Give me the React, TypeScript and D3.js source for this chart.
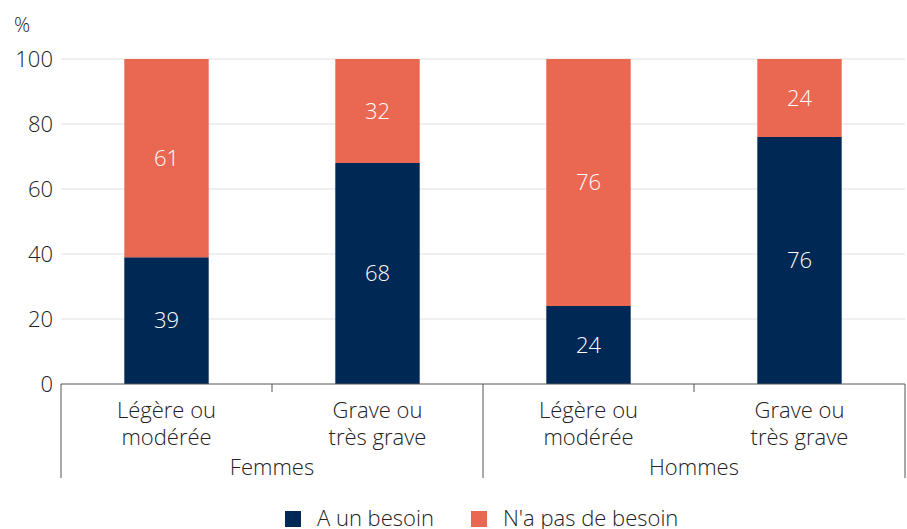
import React, { useEffect, useRef } from "react";
import * as d3 from "d3";

const groups = ["Femmes", "Hommes"];
const severities = [["Légère ou", "modérée"], ["Grave ou", "très grave"]];
const categories = ["F-leg", "F-grave", "H-leg", "H-grave"];
const aBesoin = [39, 68, 24, 76];
const pasBesoin = [61, 32, 76, 24];
const seriesNames = ["A un besoin", "N'a pas de besoin"];
const yTicks = [0, 20, 40, 60, 80, 100];

const colors = ["#002855", "#EA6752"];
const font = "'Open Sans', sans-serif";
const weight = 300;
const fs = 22;
const textColor = "#222";

const App = () => {
  const svgRef = useRef<SVGSVGElement>(null);

  useEffect(() => {
    const width = 907;
    const height = 529;
    const margin = { top: 59, right: 2, bottom: 145, left: 61 };

    const svg = d3.select(svgRef.current);
    svg.selectAll("*").remove();

    const x = d3.scaleBand()
      .domain(categories)
      .range([margin.left, width - margin.right])
      .paddingInner(0.6)
      .paddingOuter(0.3);
    const band = (width - margin.right - margin.left) / categories.length;

    const y = d3.scaleLinear()
      .domain([0, 100])
      .range([height - margin.bottom, margin.top]);

    const txt = (sel: any) =>
      sel.attr("font-family", font)
        .attr("font-weight", weight)
        .attr("font-size", fs)
        .attr("fill", textColor);

    // gridlines
    svg.append("g")
      .selectAll("line")
      .data(yTicks.filter((t) => t > 0))
      .join("line")
      .attr("x1", margin.left)
      .attr("x2", width - margin.right)
      .attr("y1", (d) => y(d))
      .attr("y2", (d) => y(d))
      .attr("stroke", "#e0e0e0")
      .attr("stroke-width", 1);

    // y tick labels
    svg.append("g")
      .selectAll("text")
      .data(yTicks)
      .join("text")
      .attr("x", margin.left - 8)
      .attr("y", (d) => y(d))
      .attr("dy", "0.35em")
      .attr("text-anchor", "end")
      .call(txt)
      .text((d) => d);

    svg.append("text")
      .attr("x", 14)
      .attr("y", 32)
      .call(txt)
      .attr("font-size", 20)
      .text("%");

    // stacked bars
    const rows = categories.map((c, i) => ({ cat: c, a: aBesoin[i], b: pasBesoin[i] }));
    const stacked = d3.stack<any>().keys(["a", "b"])(rows);

    stacked.forEach((layer, li) => {
      const g = svg.append("g");
      g.selectAll("rect")
        .data(layer)
        .join("rect")
        .attr("x", (d) => x(d.data.cat)!)
        .attr("y", (d) => y(d[1]))
        .attr("width", x.bandwidth())
        .attr("height", (d) => y(d[0]) - y(d[1]))
        .attr("fill", colors[li]);
      g.selectAll("text")
        .data(layer)
        .join("text")
        .attr("x", (d) => x(d.data.cat)! + x.bandwidth() / 2)
        .attr("y", (d) => y((d[0] + d[1]) / 2))
        .attr("dy", "0.35em")
        .attr("text-anchor", "middle")
        .call(txt)
        .attr("fill", "#fff")
        .text((d) => d[1] - d[0]);
    });

    // x axis
    const y0 = y(0);
    const axis = svg.append("g").attr("stroke", "#555").attr("stroke-width", 1);
    axis.append("line")
      .attr("x1", margin.left)
      .attr("x2", width - margin.right)
      .attr("y1", y0)
      .attr("y2", y0);
    [0, 2, 4].forEach((i) => {
      const xx = margin.left + i * band;
      axis.append("line")
        .attr("x1", xx).attr("x2", xx)
        .attr("y1", y0).attr("y2", y0 + 94);
    });
    [1, 3].forEach((i) => {
      const xx = margin.left + i * band;
      axis.append("line")
        .attr("x1", xx).attr("x2", xx)
        .attr("y1", y0).attr("y2", y0 + 8);
    });

    // category labels
    categories.forEach((c, i) => {
      const cx = x(c)! + x.bandwidth() / 2;
      const lines = severities[i % 2];
      lines.forEach((ln, li) => {
        svg.append("text")
          .attr("x", cx)
          .attr("y", y0 + 34 + li * 27)
          .attr("text-anchor", "middle")
          .call(txt)
          .text(ln);
      });
    });

    groups.forEach((gname, gi) => {
      svg.append("text")
        .attr("x", margin.left + (gi * 2 + 1) * band)
        .attr("y", y0 + 91)
        .attr("text-anchor", "middle")
        .call(txt)
        .text(gname);
    });

    // legend
    const legendX = [285, 471];
    seriesNames.forEach((name, i) => {
      svg.append("rect")
        .attr("x", legendX[i])
        .attr("y", 511)
        .attr("width", 16)
        .attr("height", 16)
        .attr("fill", colors[i]);
      svg.append("text")
        .attr("x", legendX[i] + 32)
        .attr("y", 526)
        .call(txt)
        .text(name);
    });
  }, []);

  return (
    <svg
      ref={svgRef}
      width={907}
      height={529}
      style={{ position: "absolute", left: 0, top: 0, background: "#fff" }}
    />
  );
};

export default App;
